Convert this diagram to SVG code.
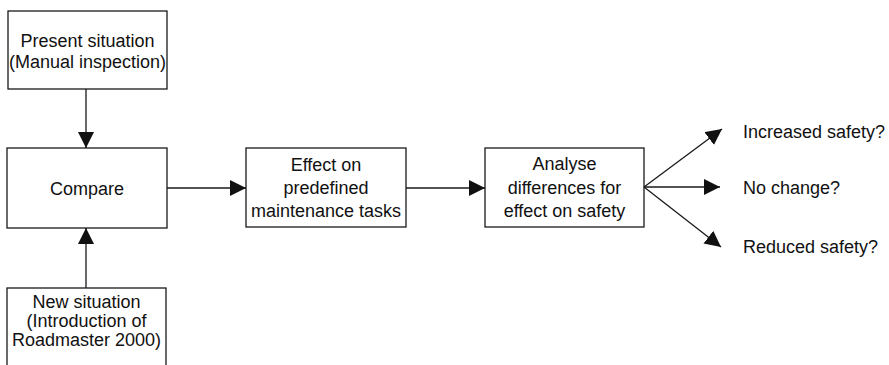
<svg xmlns="http://www.w3.org/2000/svg" width="889" height="365" viewBox="0 0 889 365">
<style>
.box{fill:#fff;stroke:#1a1a1a;stroke-width:1.3}
.t{font-family:"Liberation Sans",Arial,Helvetica,sans-serif;font-size:18px;fill:#111;text-anchor:middle}
.l{font-family:"Liberation Sans",Arial,Helvetica,sans-serif;font-size:18px;fill:#111;text-anchor:start}
.c{stroke:#1a1a1a;stroke-width:1.3;fill:none;marker-end:url(#ah)}
</style>
<defs>
<marker id="ah" markerUnits="userSpaceOnUse" markerWidth="16" markerHeight="16" refX="16" refY="8" orient="auto" viewBox="0 0 16 16">
<path d="M0,0 L16,8 L0,16 z" fill="#111"/>
</marker>
</defs>
<rect width="889" height="365" fill="#fff"/>
<g id="present">
<rect class="box" x="8" y="11" width="159" height="78"/>
<text class="t" x="87.5" y="47">Present situation</text>
<text class="t" x="87.5" y="68">(Manual inspection)</text>
</g>
<g id="compare">
<rect class="box" x="7" y="148" width="160" height="80"/>
<text class="t" x="87" y="195">Compare</text>
</g>
<g id="new">
<rect class="box" x="7" y="288" width="159" height="82"/>
<text class="t" x="86.5" y="308">New situation</text>
<text class="t" x="86.5" y="327">(Introduction of</text>
<text class="t" x="86.5" y="346">Roadmaster 2000)</text>
</g>
<g id="effect">
<rect class="box" x="246" y="148" width="160" height="79"/>
<text class="t" x="326" y="171">Effect on</text>
<text class="t" x="326" y="194">predefined</text>
<text class="t" x="326" y="217">maintenance tasks</text>
</g>
<g id="analyse">
<rect class="box" x="485" y="148" width="159" height="79"/>
<text class="t" x="564.5" y="170">Analyse</text>
<text class="t" x="564.5" y="194">differences for</text>
<text class="t" x="564.5" y="217">effect on safety</text>
</g>
<g id="outcomes">
<text class="l" x="743" y="138">Increased safety?</text>
<text class="l" x="743" y="194">No change?</text>
<text class="l" x="743" y="253">Reduced safety?</text>
</g>
<g id="connectors">
<line class="c" x1="86" y1="89" x2="86" y2="148"/>
<line class="c" x1="86" y1="288" x2="86" y2="228"/>
<line class="c" x1="167" y1="188" x2="246" y2="188"/>
<line class="c" x1="406" y1="188" x2="485" y2="188"/>
<line class="c" x1="644" y1="187" x2="722" y2="129"/>
<line class="c" x1="644" y1="187" x2="720" y2="187"/>
<line class="c" x1="644" y1="187" x2="721" y2="247"/>
</g>
</svg>
